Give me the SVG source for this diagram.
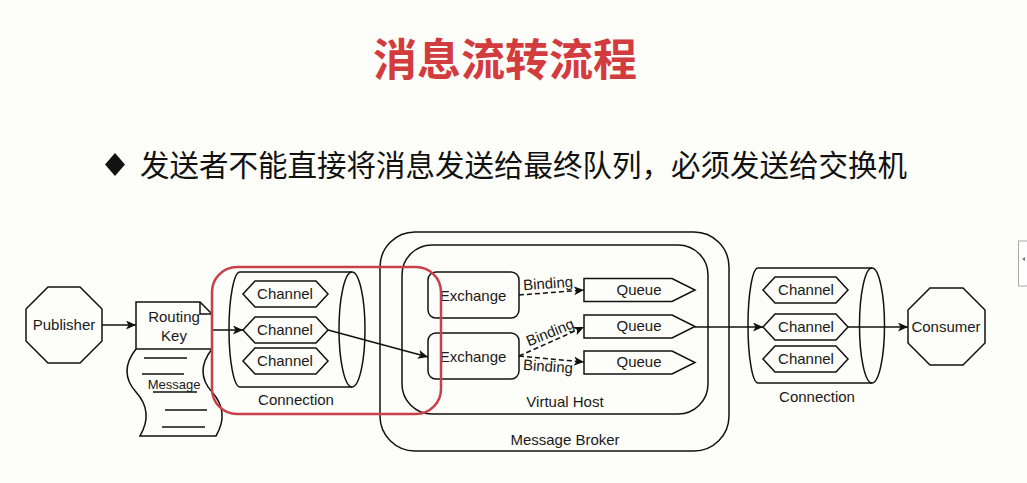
<svg xmlns="http://www.w3.org/2000/svg" width="1027" height="483" viewBox="0 0 1027 483">
<style>
.s{fill:none;stroke:#111;stroke-width:1.5}
.t{font-family:"Liberation Sans",Arial,sans-serif;font-size:15px;fill:#1a1a1a;text-anchor:middle}
.b{font-family:"Liberation Sans",Arial,sans-serif;font-size:15px;fill:#1a1a1a;text-anchor:middle;dominant-baseline:central}
.c{stroke:#111;stroke-width:1.5;fill:none}
.d{stroke:#111;stroke-width:1.5;fill:none;stroke-dasharray:5,3}
</style>
<defs>
<marker id="a" markerUnits="userSpaceOnUse" markerWidth="11" markerHeight="9" refX="10" refY="4.5" orient="auto">
<path d="M0,0 L10,4.5 L0,9 L2.5,4.5 Z" fill="#111"/>
</marker>
<polygon id="ch" points="12,0 73,0 85,13 73,26 12,26 0,13" class="s"/>
<polygon id="qu" points="0,0 88,0 111,11.5 88,23 0,23" class="s"/>
</defs>
<rect width="1027" height="483" fill="#fdfdf9"/>
<text x="505" y="76" font-family="'Noto Sans CJK SC',sans-serif" font-size="44" font-weight="700" fill="#d23c3f" text-anchor="middle">消息流转流程</text>
<polygon points="115,153 125,164.5 115,176 105,164.5" fill="#111"/>
<text x="140" y="176" font-family="'Noto Sans CJK SC',sans-serif" font-size="29.5" fill="#111">发送者不能直接将消息发送给最终队列，必须发送给交换机</text>

<g id="broker">
<rect x="380" y="232" width="349" height="219" rx="35" class="s"/>
<text class="t" x="565" y="445">Message Broker</text>
</g>
<g id="vhost">
<rect x="402" y="245" width="306" height="169" rx="30" class="s"/>
<text class="t" x="565" y="407">Virtual Host</text>
</g>

<g id="publisher">
<polygon points="48,287 80,287 102,309 102,341 80,363 48,363 26,341 26,309" class="s"/>
<text class="t" x="64" y="330">Publisher</text>
</g>
<g id="routingkey">
<path d="M136,302 H200 L212,314 V349 H136 Z" class="s"/>
<path d="M200,302 V314 H212" class="s"/>
<text class="t" x="174" y="322">Routing</text>
<text class="t" x="174" y="341">Key</text>
</g>
<g id="message">
<path d="M136,349 Q118,372 136,392 T140,436 H216 Q230,412 212,392 T212,349" class="s"/>
<path d="M144,358 H187 M142,374 H184 M153,392 H197 M165,410 H207 M162,427 H205" class="s"/>
<text class="t" x="174" y="389" style="font-size:13px">Message</text>
</g>

<g id="connection-left">
<path d="M240,272 H352 M240,387 H352 M240,272 A11,57.5 0 0 0 240,387" class="s"/>
<ellipse cx="352" cy="329.5" rx="13" ry="57.5" class="s"/>
<text class="t" x="296" y="405">Connection</text>
</g>
<g id="channel-l1"><use href="#ch" x="243" y="281"/><text class="t" x="285" y="299">Channel</text></g>
<g id="channel-l2"><use href="#ch" x="243" y="317"/><text class="t" x="285" y="335">Channel</text></g>
<g id="channel-l3"><use href="#ch" x="243" y="348"/><text class="t" x="285" y="366">Channel</text></g>

<g id="exchange1">
<rect x="428" y="272" width="91" height="46" rx="8" class="s"/>
<text class="t" x="473" y="301">Exchange</text>
</g>
<g id="exchange2">
<rect x="428" y="333" width="91" height="46" rx="8" class="s"/>
<text class="t" x="473" y="362">Exchange</text>
</g>
<g id="queue1"><use href="#qu" x="584" y="278.5"/><text class="t" x="639" y="295">Queue</text></g>
<g id="queue2"><use href="#qu" x="584" y="315"/><text class="t" x="639" y="331">Queue</text></g>
<g id="queue3"><use href="#qu" x="584" y="351"/><text class="t" x="639" y="367">Queue</text></g>

<g id="connection-right">
<path d="M758,268 H872 M758,383 H872 M758,268 A10,57.5 0 0 0 758,383" class="s"/>
<ellipse cx="872" cy="325.5" rx="12.5" ry="57.5" class="s"/>
<text class="t" x="817" y="402">Connection</text>
</g>
<g id="channel-r1"><use href="#ch" x="763" y="277"/><text class="t" x="806" y="295">Channel</text></g>
<g id="channel-r2"><use href="#ch" x="763" y="314"/><text class="t" x="806" y="332">Channel</text></g>
<g id="channel-r3"><use href="#ch" x="763" y="346"/><text class="t" x="806" y="364">Channel</text></g>

<g id="consumer">
<polygon points="930,288 963,288 985,310 985,343 963,365 930,365 908,343 908,310" class="s"/>
<text class="t" x="946" y="332">Consumer</text>
</g>

<g id="connectors">
<line x1="102" y1="325" x2="136" y2="325" class="c" marker-end="url(#a)"/>
<line x1="212" y1="330" x2="243" y2="330" class="c" marker-end="url(#a)"/>
<line x1="328" y1="330" x2="428" y2="357" class="c" marker-end="url(#a)"/>
<line x1="519" y1="295" x2="584" y2="290" class="d" marker-end="url(#a)"/>
<line x1="519" y1="356" x2="584" y2="327" class="d" marker-end="url(#a)"/>
<line x1="519" y1="356" x2="584" y2="362" class="d" marker-end="url(#a)"/>
<line x1="695" y1="327" x2="763" y2="327" class="c" marker-end="url(#a)"/>
<line x1="848" y1="327" x2="908" y2="327" class="c" marker-end="url(#a)"/>
<text class="b" x="548" y="283" transform="rotate(-4 548 283)">Binding</text>
<text class="b" x="550" y="332" transform="rotate(-22 550 332)">Binding</text>
<text class="b" x="548" y="366" transform="rotate(4 548 366)">Binding</text>
</g>

<rect x="212" y="267" width="229" height="147" rx="25" fill="none" stroke="#c9404a" stroke-width="2.5"/>
<rect x="1018.5" y="241" width="12" height="45" fill="#fff" stroke="#aaa" stroke-width="1"/>
<polygon points="1022,259 1025,257 1025,261" fill="#777"/>
</svg>
